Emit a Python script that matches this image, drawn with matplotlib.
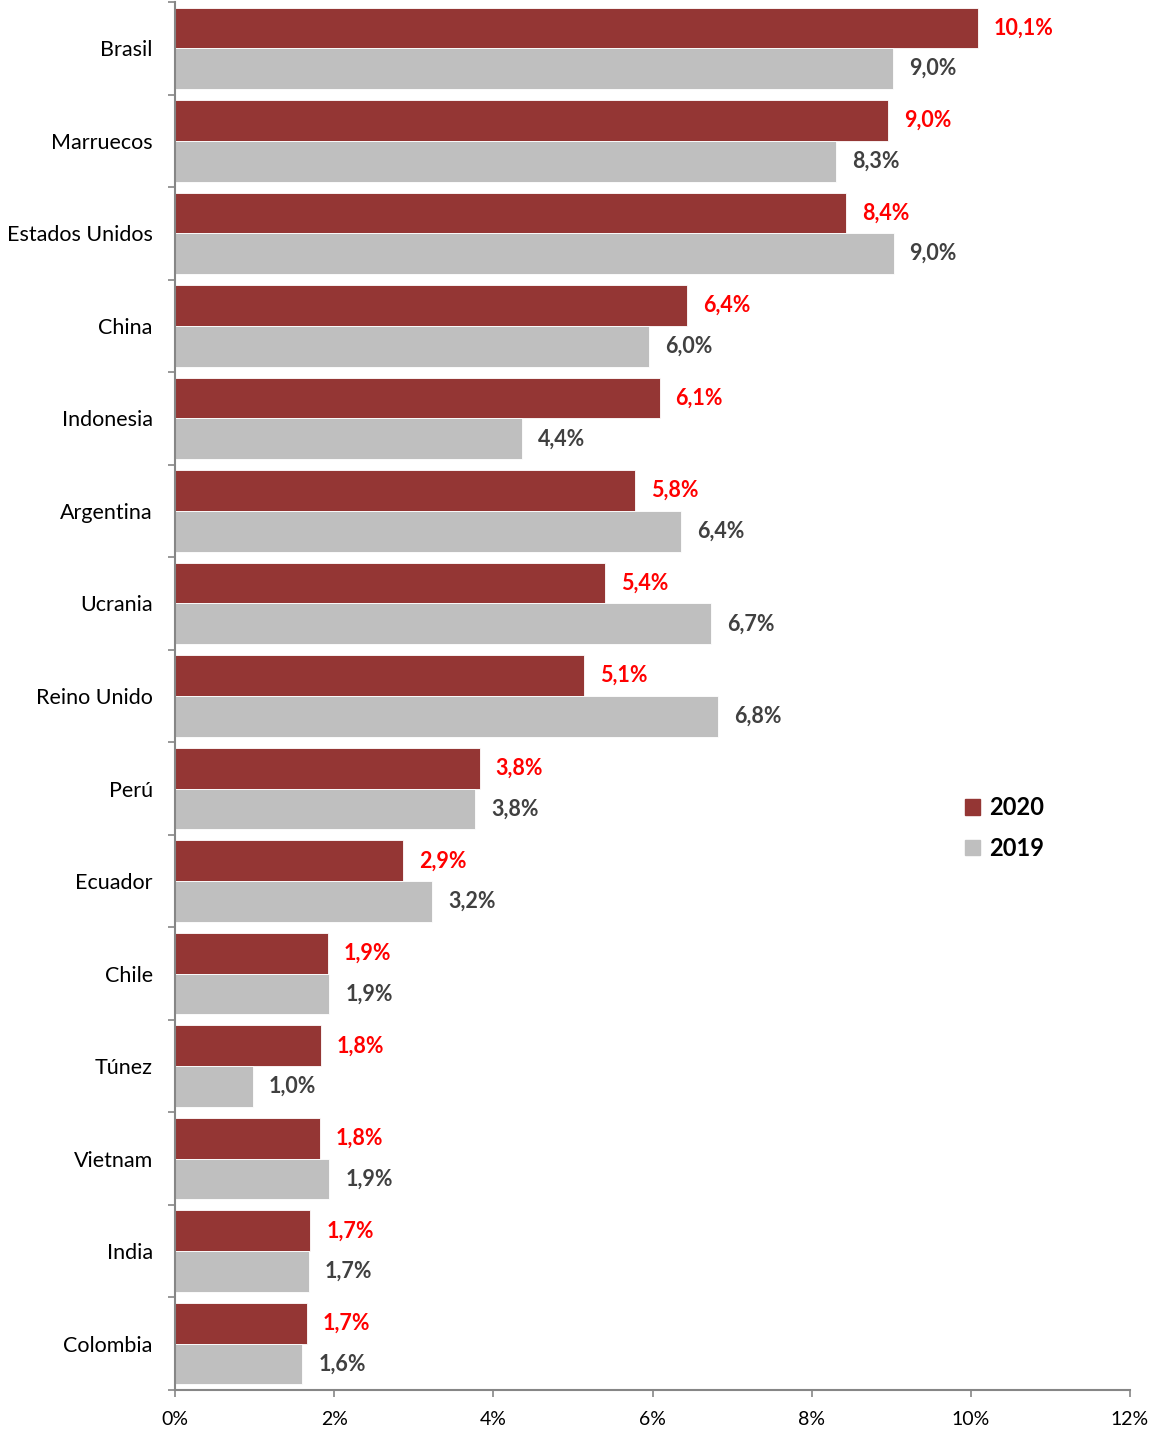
import numpy as np
import matplotlib
matplotlib.use("Agg")
import matplotlib.pyplot as plt
from matplotlib.patches import Patch

paises = ["Brasil", "Marruecos", "Estados Unidos", "China", "Indonesia", "Argentina",
          "Ucrania", "Reino Unido", "Perú", "Ecuador", "Chile", "Túnez", "Vietnam",
          "India", "Colombia"]
v2020 = [10.09, 8.96, 8.43, 6.43, 6.09, 5.78, 5.40, 5.14, 3.83, 2.87, 1.92, 1.83, 1.82, 1.70, 1.66]
v2019 = [9.02, 8.31, 9.03, 5.96, 4.36, 6.36, 6.74, 6.82, 3.77, 3.23, 1.94, 0.98, 1.94, 1.68, 1.60]
xticks = [0, 2, 4, 6, 8, 10, 12]

ROJO = "#943634"
GRIS = "#BFBFBF"
EJE = "#868686"

plt.rcParams['font.family'] = ['Lato', 'DejaVu Sans']

fig = plt.figure(figsize=(11.5, 14.31), dpi=100)
ax = fig.add_axes([175 / 1150, 1 - 1390 / 1431, (1130 - 175) / 1150, (1390 - 2) / 1431])

y = np.arange(len(paises))
h = 0.44
ax.barh(y - h / 2, v2020, height=h, color=ROJO, edgecolor="white", linewidth=0.6, label="2020")
ax.barh(y + h / 2, v2019, height=h, color=GRIS, edgecolor="white", linewidth=0.6, label="2019")

def fmt(v):
    return f"{v:.1f}".replace(".", ",") + "%"

for i in range(len(paises)):
    ax.text(v2020[i] + 0.2, y[i] - h / 2, fmt(v2020[i]), color="#FF0000", fontweight="bold",
            fontsize=15.5, va="center", ha="left")
    ax.text(v2019[i] + 0.2, y[i] + h / 2, fmt(v2019[i]), color="#404040", fontweight="bold",
            fontsize=15.5, va="center", ha="left")

ax.set_xlim(0, 12)
ax.set_ylim(len(paises) - 0.5, -0.5)
ax.set_xticks(xticks)
ax.set_xticklabels([f"{t}%" for t in xticks], fontsize=14)
ax.set_yticks(y)
ax.set_yticklabels(paises, fontsize=15.5)
ax.set_yticks(np.arange(len(paises) + 1) - 0.5, minor=True)
ax.tick_params(axis="y", which="major", length=0, pad=16)
ax.tick_params(axis="y", which="minor", length=5, color=EJE, width=1.2)
ax.tick_params(axis="x", length=5, color=EJE, width=1.2, pad=10)

for s in ["top", "right"]:
    ax.spines[s].set_visible(False)
for s in ["left", "bottom"]:
    ax.spines[s].set_color(EJE)
    ax.spines[s].set_linewidth(1.5)

handles = [Patch(color=ROJO, label="2020"), Patch(color=GRIS, label="2019")]
ax.legend(handles=handles, loc="center left", bbox_to_anchor=(0.805, 0.405), frameon=False,
          prop={"weight": "bold", "size": 17}, handlelength=0.65, handleheight=0.65,
          handletextpad=0.35, labelspacing=0.75)

fig.savefig("out.png", dpi=100)
